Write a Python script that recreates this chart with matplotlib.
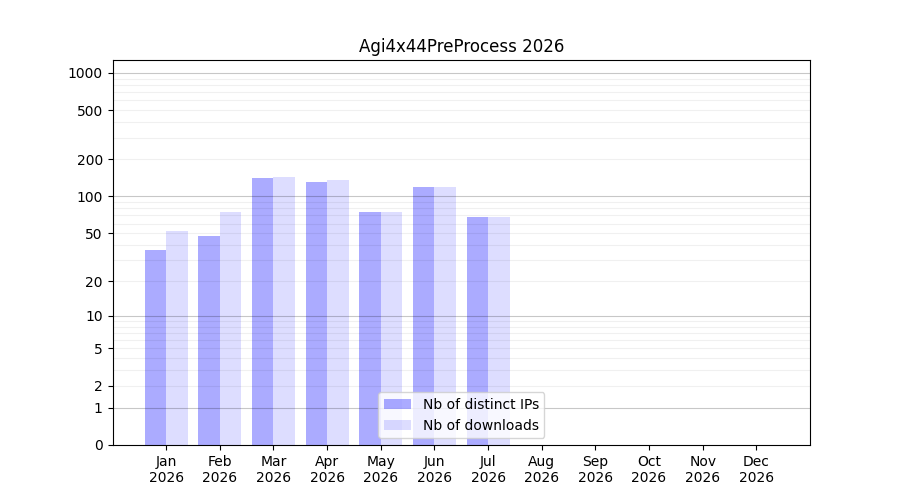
import numpy as np
import matplotlib
matplotlib.use("Agg")
import matplotlib.pyplot as plt

months = ["Jan", "Feb", "Mar", "Apr", "May", "Jun", "Jul", "Aug", "Sep", "Oct", "Nov", "Dec"]
year = "2026"
ips = [36, 47, 141, 131, 75, 119, 68, 0, 0, 0, 0, 0]
downloads = [52, 75, 144, 136, 75, 119, 68, 0, 0, 0, 0, 0]
ytick_vals = [0, 1, 2, 5, 10, 20, 50, 100, 200, 500, 1000]

def fwd(y):
    return np.log10(1 + np.clip(y, 0, None))

def inv(y):
    return 10 ** y - 1

fig, ax = plt.subplots(figsize=(9, 5), dpi=100)
x = np.arange(len(months))
w = 0.4
ax.bar(x - w / 2, ips, width=w, color="blue", alpha=0.33, linewidth=0, label="Nb of distinct IPs", zorder=2)
ax.bar(x + w / 2, downloads, width=w, color="blue", alpha=0.135, linewidth=0, label="Nb of downloads", zorder=2)

ax.set_yscale("function", functions=(fwd, inv))
ax.set_ylim(0, 1270)
ax.set_xlim(-1, 12)
ax.set_yticks(ytick_vals)
ax.set_yticklabels([str(v) for v in ytick_vals])
ax.yaxis.set_minor_locator(matplotlib.ticker.NullLocator())
ax.set_xticks(x)
ax.set_xticklabels([f"{m}\n{year}" for m in months])

for p in [1, 10, 100, 1000]:
    ax.axhline(p, color="black", alpha=0.22, linewidth=0.8, zorder=3)
for dec in [1, 10, 100, 1000]:
    for m in range(2, 10):
        v = m * dec
        if v < 1270:
            ax.axhline(v, color="black", alpha=0.06, linewidth=0.8, zorder=3)

ax.set_title("Agi4x44PreProcess 2026")
ax.legend(loc="lower center")
fig.savefig("out.png")
